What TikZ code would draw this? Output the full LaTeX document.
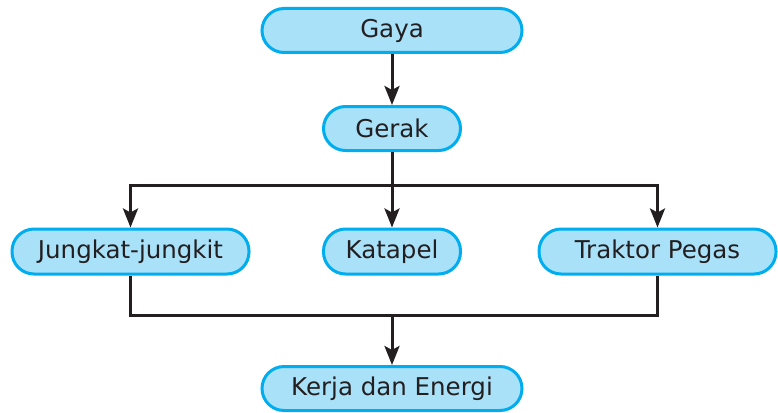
\documentclass[tikz,border=0pt]{standalone}
\usepackage{fontspec}
\setmainfont{DejaVu Sans}
\usetikzlibrary{arrows.meta}
\definecolor{boxfill}{HTML}{A9E1F9}
\definecolor{boxline}{HTML}{00ADEE}
\definecolor{ink}{HTML}{231F20}
\begin{document}
\begin{tikzpicture}[x=1pt,y=-1pt,
  box/.style={draw=boxline, fill=boxfill, line width=3pt, rounded corners=22pt,
    minimum height=44pt, inner sep=0pt, text=ink, font=\fontsize{24.5}{28}\selectfont},
  conn/.style={draw=ink, line width=3pt},
  arr/.style={conn, -{Stealth[length=19pt,width=15pt,inset=4pt]}}]
\useasboundingbox (0,0) rectangle (778,412);
\node[box, minimum width=260pt] (gaya) at (392,30.5) {Gaya};
\node[box, minimum width=137pt] (gerak) at (392,128.5) {Gerak};
\node[box, minimum width=237pt, minimum height=45pt] (jung) at (130.5,251.5) {Jungkat-jungkit};
\node[box, minimum width=137pt, minimum height=45pt] (kata) at (392,251.5) {Katapel};
\node[box, minimum width=237pt, minimum height=45pt] (trak) at (657.5,251.5) {Traktor Pegas};
\node[box, minimum width=260pt] (kerja) at (392,388.5) {Kerja dan Energi};
\coordinate (split) at (392,185);
\coordinate (join) at (392,315);
\draw[arr] (gaya) -- (gerak);
\draw[conn] (gerak.south) -- (split);
\draw[arr] (split) -- (kata.north);
\draw[arr] (split) -| (jung.north);
\draw[arr] (split) -| (trak.north);
\draw[conn] (jung.south) |- (join);
\draw[conn] (trak.south) |- (join);
\draw[arr] (join) -- (kerja.north);
\end{tikzpicture}
\end{document}
